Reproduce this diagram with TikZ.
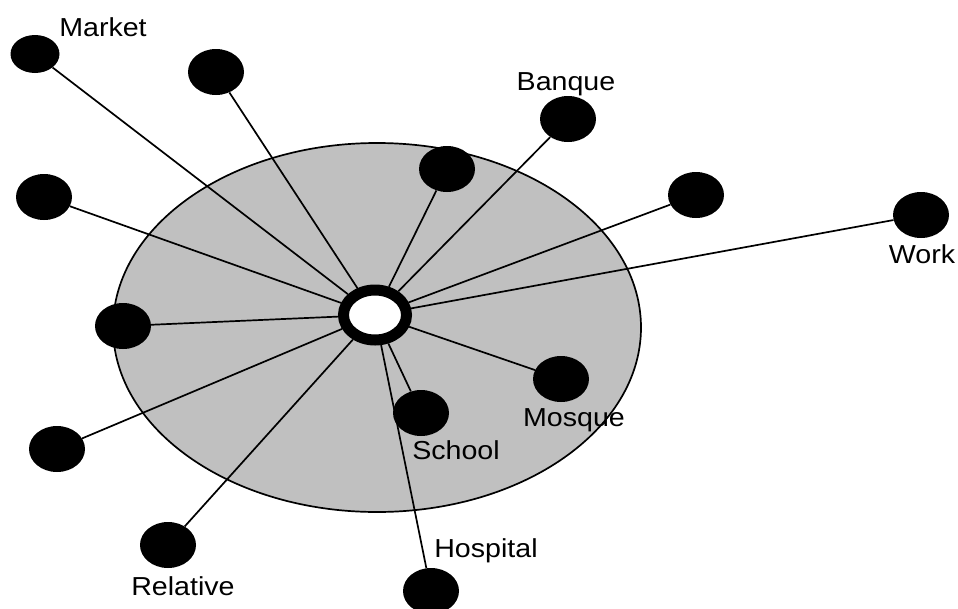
\documentclass[tikz,border=0pt]{standalone}
\usepackage{fontspec}
\setmainfont{Liberation Sans}[FakeStretch=1.1]
\usetikzlibrary{shapes.geometric}
\begin{document}
\begin{tikzpicture}[x=1pt,y=-1pt,
  dotnode/.style={ellipse,fill=black,inner sep=0pt,minimum width=56pt,minimum height=46pt},
  hubnode/.style={ellipse,draw=black,line width=11pt,fill=white,inner sep=0pt,minimum width=63pt,minimum height=50pt},
  spoke/.style={draw=black,line width=1.7pt},
  lbl/.style={anchor=base,inner sep=0pt,font=\fontsize{26}{30}\selectfont}]
\useasboundingbox (0,0) rectangle (958,608);
\fill[fill={rgb,255:red,192;green,192;blue,192},draw=black,line width=1.7pt] (377,327.5) ellipse [x radius=264, y radius=184.5];
\node[hubnode] (c) at (375,315) {};
\node[dotnode,minimum width=49pt,minimum height=38pt] (market) at (35,54) {};
\node[dotnode] (d2) at (216,72) {};
\node[dotnode] (banque) at (568,119) {};
\node[dotnode] (d4) at (447,169) {};
\node[dotnode] (d5) at (696,195) {};
\node[dotnode] (work) at (921,215) {};
\node[dotnode] (d7) at (44,197) {};
\node[dotnode] (d8) at (123,326) {};
\node[dotnode] (d9) at (57,449) {};
\node[dotnode] (mosque) at (561,379) {};
\node[dotnode] (school) at (421,413) {};
\node[dotnode] (relative) at (168,545) {};
\node[dotnode] (hospital) at (431,591) {};
\foreach \n in {market,d2,banque,d4,d5,work,d7,d8,d9,mosque,school,relative,hospital}
  \draw[spoke] (c) -- (\n);
\node[lbl] (tmarket) at (103,36) {Market};
\node[lbl] (tbanque) at (566,90) {Banque};
\node[lbl] (twork) at (922,263) {Work};
\node[lbl] (tmosque) at (574,426) {Mosque};
\node[lbl] (tschool) at (456,459) {School};
\node[lbl] (trelative) at (183,595) {Relative};
\node[lbl] (thospital) at (486,557) {Hospital};
\end{tikzpicture}
\end{document}
